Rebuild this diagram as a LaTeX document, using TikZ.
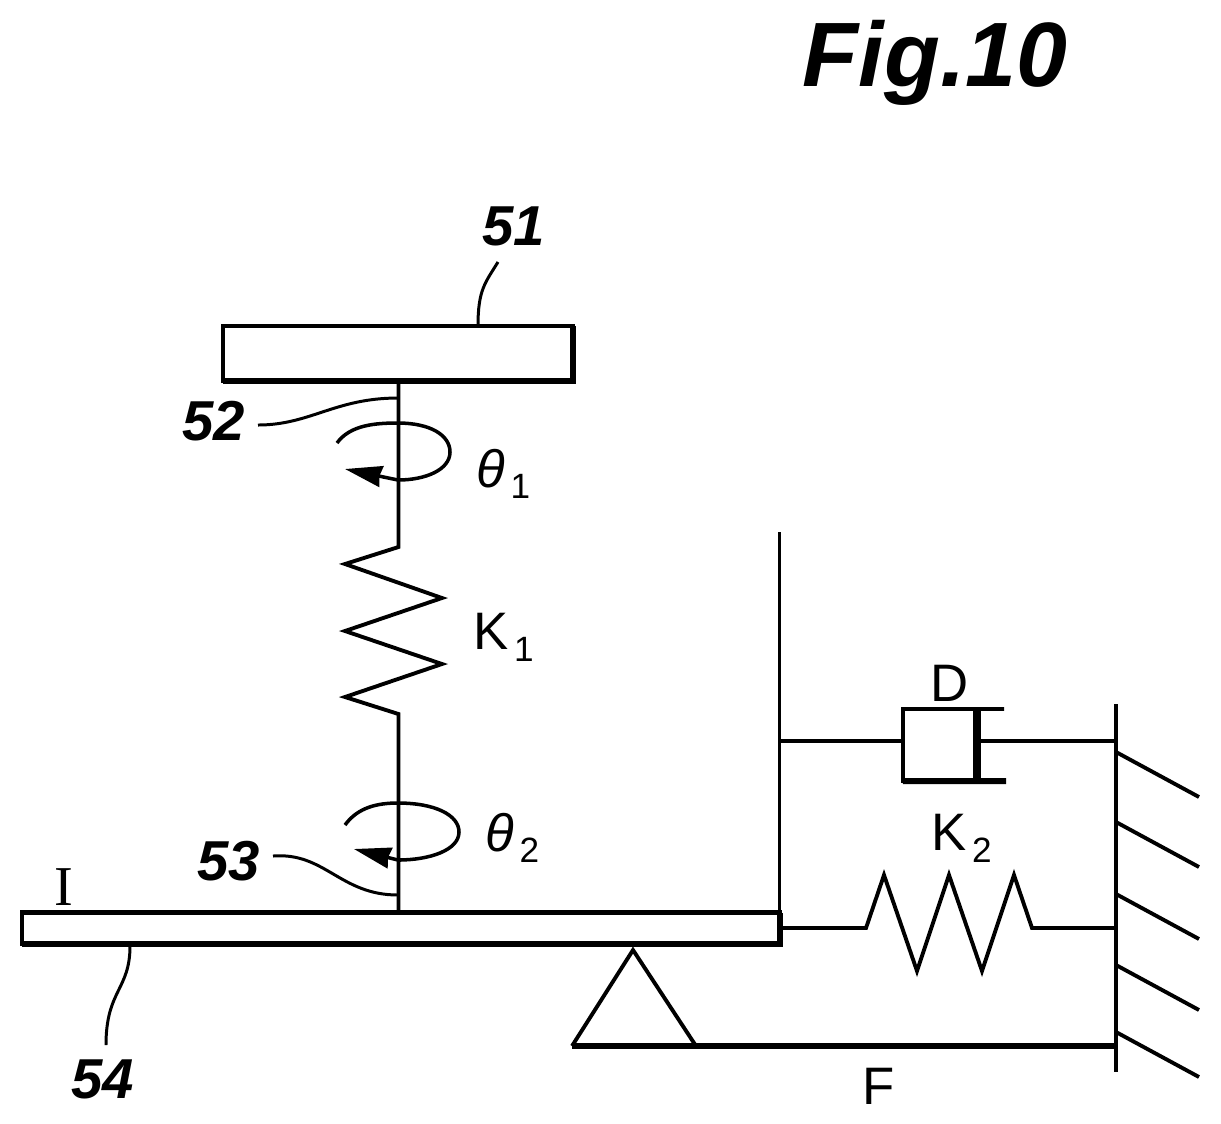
\documentclass[tikz,border=0pt]{standalone}
\usepackage{fontspec}
\usepackage{tikz}
\usetikzlibrary{arrows.meta}
\setmainfont{Liberation Sans}
\newfontfamily\serifI{Liberation Serif}
\newcommand{\subnum}[1]{\kern1.5pt\raisebox{-0.42ex}{\fontsize{10}{10}\selectfont #1}}

\begin{document}
\begin{tikzpicture}[
		x=0.01cm, y=-0.01cm,
		link/.style={line width=1.1pt, line join=miter},
		heavy/.style={line width=1.7pt},
		leader/.style={line width=0.85pt},
		massbar/.style={rectangle, draw, line width=1.15pt, inner sep=0pt, outer sep=0pt},
		housing/.style={rectangle, draw, line width=1.15pt, inner sep=0pt, outer sep=0pt, minimum width=0.72cm, minimum height=0.72cm},
		spin/.style={line width=1pt, -{Stealth[length=0.37cm, width=0.21cm, inset=0.02cm]}},
		reflabel/.style={font=\bfseries\itshape\fontsize{16}{16}\selectfont, inner sep=0pt},
		symlabel/.style={font=\fontsize{15}{15}\selectfont, inner sep=0pt}
	]
		\useasboundingbox (0,0) rectangle (1221,1123);

		% Title
		\node[inner sep=0pt, font=\bfseries\itshape\fontsize{26}{26}\selectfont] (title) at (935,63) {Fig.10};

		% Masses
		\node[massbar, minimum width=3.5cm, minimum height=0.55cm] (disk) at (398,353.5) {};
		\node[massbar, minimum width=7.58cm, minimum height=0.31cm] (beam) at (401,928) {};
		\draw[heavy] (disk.south west) -- (disk.south east) -- (disk.north east);
		\draw[heavy] (beam.south west) -- (beam.south east) -- (beam.north east);

		% Upper shaft with spring
		\coordinate (shafttop) at (398.5,381);
		\coordinate (shaftfoot) at (398.5,913);
		\draw[link] (shafttop) -- (398.5,547) -- (345,564) -- (442,598) -- (345,631)
			-- (442,664) -- (345,697) -- (398.5,714) -- (shaftfoot);

		% Rotation marks
		\draw[spin] (337,443) .. controls (350,425) and (375,423) .. (398,423)
			.. controls (430,423) and (450,435) .. (450,452)
			.. controls (450,470) and (425,480) .. (398,480) -- (345,469);
		\draw[spin] (345,825) .. controls (358,807) and (378,803) .. (398,803)
			.. controls (435,803) and (459,815) .. (459,832)
			.. controls (459,850) and (430,860) .. (398,860) -- (354,849);

		% Post, damper and spring
		\coordinate (posttop) at (779.5,532);
		\coordinate (postfoot) at (779.5,913);
		\coordinate (dampleft) at (779.5,741);
		\coordinate (dampright) at (1116,741);
		\coordinate (springleft) at (780,928);
		\coordinate (springright) at (1116,928);
		\draw[link] (posttop) -- (postfoot);
		\node[housing] (damper) at (939,745) {};
		\draw[link] (dampleft) -- (dampleft -| damper.west);
		\draw[heavy] (damper.south west) -- (1006,781);
		\draw[link] (damper.north east) -- (1004,709);
		\draw[line width=2.2pt] (damper.north east) ++(2,0) -- ++(0,72);
		\draw[link] (dampright -| damper.east) -- (dampright);
		\draw[link] (springleft) -- (866,928) -- (884,875) -- (917,971) -- (949,875)
			-- (982,971) -- (1014,875) -- (1032,928) -- (springright);

		% Wall and hatching
		\coordinate (walltop) at (1116,704);
		\coordinate (wallfoot) at (1116,1072);
		\draw[link] (walltop) -- (wallfoot);
		\foreach \hy in {752,822,894,965,1032}
			\draw[link] (1116,\hy) -- (1199,\hy+45);

		% Fulcrum
		\coordinate (pivot) at (633,950);
		\coordinate (pivotleft) at (572,1046);
		\coordinate (pivotright) at (696,1046);
		\coordinate (groundend) at (1116,1046);
		\draw[link] (pivotleft) -- (pivot) -- (pivotright);
		\draw[heavy] (pivotleft) -- (groundend);

		% Reference numerals
		\node[reflabel] (n51) at (514,226) {51};
		\node[reflabel] (n52) at (214,421) {52};
		\node[reflabel] (n53) at (229,861) {53};
		\node[reflabel] (n54) at (103,1079) {54};
		\coordinate (lead51) at (498,262);
		\coordinate (lead52) at (258,425);
		\coordinate (lead53) at (273,856);
		\coordinate (lead54) at (106,1045);
		\draw[leader] (lead51) .. controls (485,283) and (478,290) .. (478,326);
		\draw[leader] (lead52) .. controls (310,425) and (335,398) .. (398,398);
		\draw[leader] (lead53) .. controls (325,852) and (340,895) .. (398,895);
		\draw[leader] (lead54) .. controls (106,990) and (130,990) .. (130,946);

		% Symbols
		\node[symlabel, anchor=west] (k1) at (473,637) {K\subnum{1}};
		\node[symlabel, anchor=west] (k2) at (931,838) {K\subnum{2}};
		\node[symlabel] (dlabel) at (950,683) {D};
		\node[symlabel] (flabel) at (879,1086) {F};
		\node[symlabel, anchor=west] (th1) at (476,474) {\textit{θ}\subnum{1}};
		\node[symlabel, anchor=west] (th2) at (485,838) {\textit{θ}\subnum{2}};
		\node[inner sep=0pt, font=\serifI\fontsize{16}{16}\selectfont] (ilabel) at (64,887) {I};
	\end{tikzpicture}
\end{document}
